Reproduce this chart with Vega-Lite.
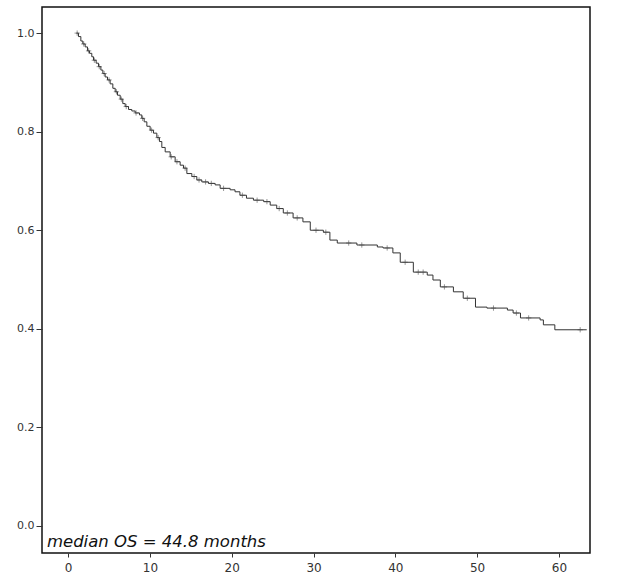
{
  "$schema": "https://vega.github.io/schema/vega-lite/v6.json",
  "width": 548,
  "height": 546,
  "autosize": "none",
  "padding": {"left": 42, "top": 7, "right": 27, "bottom": 28},
  "background": "white",
  "config": {
    "view": {"stroke": "#111", "strokeWidth": 1.5},
    "axis": {"grid": false, "domain": false, "labelFont": "DejaVu Sans", "labelFontSize": 11, "labelColor": "#333", "tickColor": "#333", "title": null}
  },
  "datasets": {
    "km": [
      {"t": 1.0, "s": 1.0},
      {"t": 1.26, "s": 0.993},
      {"t": 1.55, "s": 0.984},
      {"t": 1.79, "s": 0.978},
      {"t": 2.08, "s": 0.972},
      {"t": 2.36, "s": 0.964},
      {"t": 2.61, "s": 0.959},
      {"t": 2.89, "s": 0.952},
      {"t": 3.1, "s": 0.945},
      {"t": 3.42, "s": 0.939},
      {"t": 3.71, "s": 0.932},
      {"t": 4.0, "s": 0.925},
      {"t": 4.24, "s": 0.918},
      {"t": 4.52, "s": 0.911},
      {"t": 4.81, "s": 0.905},
      {"t": 5.13, "s": 0.897},
      {"t": 5.46, "s": 0.888},
      {"t": 5.75, "s": 0.881},
      {"t": 6.03, "s": 0.874},
      {"t": 6.36, "s": 0.866},
      {"t": 6.68, "s": 0.857},
      {"t": 6.97, "s": 0.851},
      {"t": 7.38, "s": 0.845},
      {"t": 7.78, "s": 0.842},
      {"t": 8.19, "s": 0.838},
      {"t": 8.72, "s": 0.834},
      {"t": 9.0, "s": 0.827},
      {"t": 9.29, "s": 0.82},
      {"t": 9.62, "s": 0.811},
      {"t": 10.02, "s": 0.803},
      {"t": 10.43, "s": 0.797},
      {"t": 10.84, "s": 0.788},
      {"t": 11.16, "s": 0.78},
      {"t": 11.45, "s": 0.768},
      {"t": 11.86, "s": 0.759},
      {"t": 12.47, "s": 0.749},
      {"t": 13.08, "s": 0.739},
      {"t": 13.69, "s": 0.732},
      {"t": 14.1, "s": 0.726},
      {"t": 14.51, "s": 0.715},
      {"t": 15.12, "s": 0.709},
      {"t": 15.73, "s": 0.702},
      {"t": 16.34, "s": 0.698},
      {"t": 17.15, "s": 0.695},
      {"t": 17.97, "s": 0.692},
      {"t": 18.58, "s": 0.685},
      {"t": 19.8, "s": 0.682},
      {"t": 20.4, "s": 0.678},
      {"t": 21.0, "s": 0.671},
      {"t": 21.8, "s": 0.665},
      {"t": 22.65, "s": 0.661},
      {"t": 23.9, "s": 0.658},
      {"t": 24.7, "s": 0.651},
      {"t": 25.5, "s": 0.644},
      {"t": 26.3, "s": 0.635},
      {"t": 27.5, "s": 0.625},
      {"t": 28.7, "s": 0.617},
      {"t": 29.6, "s": 0.6},
      {"t": 31.2, "s": 0.596},
      {"t": 32.0, "s": 0.58},
      {"t": 32.9, "s": 0.574},
      {"t": 35.3, "s": 0.57},
      {"t": 37.8, "s": 0.566},
      {"t": 38.5, "s": 0.564},
      {"t": 39.7, "s": 0.554},
      {"t": 40.6, "s": 0.535},
      {"t": 42.2, "s": 0.515},
      {"t": 43.9, "s": 0.509},
      {"t": 44.6, "s": 0.499},
      {"t": 45.5, "s": 0.485},
      {"t": 47.1, "s": 0.475},
      {"t": 48.3, "s": 0.462},
      {"t": 49.8, "s": 0.444},
      {"t": 51.2, "s": 0.442},
      {"t": 53.7, "s": 0.438},
      {"t": 54.4, "s": 0.432},
      {"t": 55.3, "s": 0.422},
      {"t": 57.7, "s": 0.418},
      {"t": 58.1, "s": 0.408},
      {"t": 59.5, "s": 0.398},
      {"t": 63.4, "s": 0.398}
    ],
    "censor": [
      {"t": 1.1, "s": 1.0}, {"t": 1.9, "s": 0.978}, {"t": 2.5, "s": 0.964}, {"t": 3.2, "s": 0.945}, {"t": 3.8, "s": 0.932},
      {"t": 4.4, "s": 0.918}, {"t": 5.0, "s": 0.905}, {"t": 5.9, "s": 0.881}, {"t": 6.5, "s": 0.866}, {"t": 7.1, "s": 0.851},
      {"t": 8.3, "s": 0.838}, {"t": 9.1, "s": 0.827}, {"t": 10.2, "s": 0.803}, {"t": 11.0, "s": 0.788},
      {"t": 12.6, "s": 0.749}, {"t": 13.3, "s": 0.739}, {"t": 14.3, "s": 0.726}, {"t": 15.4, "s": 0.709},
      {"t": 16.0, "s": 0.702}, {"t": 16.8, "s": 0.698}, {"t": 17.5, "s": 0.695}, {"t": 19.0, "s": 0.685},
      {"t": 21.3, "s": 0.671}, {"t": 23.1, "s": 0.661}, {"t": 24.3, "s": 0.658}, {"t": 25.8, "s": 0.644},
      {"t": 26.8, "s": 0.635}, {"t": 28.0, "s": 0.625}, {"t": 30.3, "s": 0.6}, {"t": 31.5, "s": 0.596},
      {"t": 34.3, "s": 0.574}, {"t": 35.9, "s": 0.57}, {"t": 39.0, "s": 0.564}, {"t": 41.2, "s": 0.535},
      {"t": 42.8, "s": 0.515}, {"t": 43.4, "s": 0.515}, {"t": 46.0, "s": 0.485}, {"t": 48.8, "s": 0.462},
      {"t": 52.0, "s": 0.442}, {"t": 54.8, "s": 0.432}, {"t": 56.3, "s": 0.422}, {"t": 62.6, "s": 0.398}
    ],
    "note": [{"t": -2.6, "s": -0.043, "label": "median OS = 44.8 months"}]
  },
  "layer": [
    {
      "data": {"name": "km"},
      "mark": {"type": "line", "interpolate": "step-after", "color": "#333", "strokeWidth": 1},
      "encoding": {
        "x": {"field": "t", "type": "quantitative", "scale": {"domain": [-3.2, 63.8], "nice": false, "zero": false},
              "axis": {"values": [0, 10, 20, 30, 40, 50, 60], "tickSize": 4, "labelPadding": 5, "labelFontSize": 12}},
        "y": {"field": "s", "type": "quantitative", "scale": {"domain": [-0.055, 1.053], "nice": false, "zero": false},
              "axis": {"values": [0, 0.2, 0.4, 0.6, 0.8, 1.0], "format": ".1f", "tickSize": 6, "labelPadding": 2}}
      }
    },
    {
      "data": {"name": "censor"},
      "mark": {"type": "point", "shape": "M-1,0H1M0,-1V1", "filled": false, "stroke": "#444", "strokeWidth": 0.8, "size": 28},
      "encoding": {
        "x": {"field": "t", "type": "quantitative"},
        "y": {"field": "s", "type": "quantitative"}
      }
    },
    {
      "data": {"name": "note"},
      "mark": {"type": "text", "align": "left", "baseline": "alphabetic", "font": "DejaVu Sans", "fontStyle": "italic", "fontSize": 16.5, "color": "#111"},
      "encoding": {
        "x": {"field": "t", "type": "quantitative"},
        "y": {"field": "s", "type": "quantitative"},
        "text": {"field": "label"}
      }
    }
  ]
}
